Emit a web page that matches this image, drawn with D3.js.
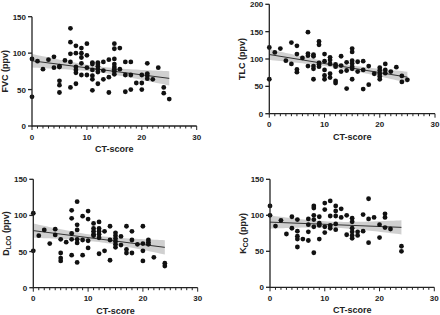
<!DOCTYPE html>
<html>
<head>
<meta charset="utf-8">
<script src="https://cdn.jsdelivr.net/npm/d3@7"></script>
<style>
  body { margin: 0; background: #fff; }
  svg { display: block; font-family: Arial, "Liberation Sans", sans-serif; }
  .tick-label { font-size: 8px; font-weight: bold; fill: #222; }
  .axis-title { font-size: 9px; font-weight: bold; fill: #222; }
</style>
</head>
<body>
<div id="chart"></div>
<script>
// CT-score vs lung function scatter panels

// FVC panel
const fvcCT  = [0,0,1,2,3,4,4,5,5,5,5,5,6,7,7,7,7,7,8,8,8,8,8,8,9,9,9,9,9,10,10,10,10,11,11,11,11,11,11,12,12,12,12,12,12,13,13,13,14,14,14,15,15,15,15,15,15,15,15,16,16,17,17,17,18,18,18,19,20,20,20,21,21,21,21,22,23,24,24,25];
const fvcVal = [92,40,89,78,91,95,80,82,81,62,56,46,90,134,115,99,88,53,110,100,81,77,73,58,107,100,94,86,70,113,97,80,70,87,85,77,69,64,49,87,85,82,78,74,58,88,76,64,91,67,46,113,106,92,85,81,78,75,71,107,78,88,70,47,88,70,50,59,70,59,50,86,72,69,65,64,80,53,45,37];

// TLC panel
const tlcCT  = [0,0,1,2,3,4,4,5,5,5,5,6,7,7,7,7,8,8,8,8,8,9,9,9,9,9,10,10,10,10,10,11,11,11,11,11,12,12,12,12,13,13,13,14,14,14,15,15,15,15,15,15,15,16,16,17,17,17,18,18,19,20,20,20,20,20,21,21,21,22,23,24,24,25];
const tlcVal = [121,63,112,119,97,130,91,124,109,81,76,102,149,110,106,87,108,105,87,82,63,132,126,93,90,86,109,96,80,70,63,103,98,91,73,66,90,86,60,56,105,88,77,94,79,46,119,113,97,92,86,82,63,95,77,96,80,45,87,53,73,84,79,73,68,63,91,80,74,77,85,69,58,62];

// DLCO panel
const dlcoCT  = [0,0,1,2,3,4,4,5,5,5,5,6,7,7,7,7,7,8,8,8,8,8,8,9,9,9,10,10,10,10,11,11,11,11,11,12,12,12,12,12,12,13,13,14,14,14,15,15,15,15,15,15,16,16,17,17,17,18,18,18,19,20,20,20,20,21,21,21,22,24,24];
const dlcoVal = [103,51,72,80,61,81,73,67,48,41,37,63,107,96,75,67,45,119,87,80,67,62,35,99,66,45,106,95,65,55,89,82,78,74,72,91,82,78,74,69,47,78,51,85,66,38,76,72,68,64,60,56,71,59,85,53,48,78,66,48,60,85,61,51,37,66,63,60,42,34,30];

// KCO panel
const kcoCT  = [0,0,1,2,3,4,4,5,5,5,5,5,6,7,7,7,7,8,8,8,8,8,8,9,9,9,9,10,10,10,10,11,11,11,11,12,12,12,12,12,13,13,14,14,15,15,15,15,15,15,16,16,17,17,18,18,18,19,20,20,21,21,21,22,24,24];
const kcoVal = [113,100,85,93,74,98,82,94,78,71,67,56,67,95,87,77,65,113,110,100,94,84,48,98,89,86,67,117,108,84,76,120,99,86,82,113,106,99,88,80,109,97,100,73,96,91,82,77,72,68,77,72,101,78,123,95,62,97,87,69,102,97,83,81,57,50];

const yMaxes = [150, 200, 150, 150];
const yTickStep = 50;
const xTicksMajor = [0, 10, 20, 30];

const W = 440, H = 315;
const svg = d3.select("#chart").append("svg")
  .attr("width", W)
  .attr("height", H);

// panel boxes (plot area pixel bounds)
const panels = [
  {xs: fvcCT,  ys: fvcVal,  yMax: yMaxes[0], x0: 32,    x1: 196.7, yb: 126,   yt: 16.7,  label: ["FVC (ppv)"]},
  {xs: tlcCT,  ys: tlcVal,  yMax: yMaxes[1], x0: 269.3, x1: 435,   yb: 113.7, yt: 4.3,   label: ["TLC (ppv)"]},
  {xs: dlcoCT, ys: dlcoVal, yMax: yMaxes[2], x0: 33.3,  x1: 197.7, yb: 287.7, yt: 179.3, label: ["D", "LCO", " (ppv)"]},
  {xs: kcoCT,  ys: kcoVal,  yMax: yMaxes[3], x0: 270,   x1: 434.3, yb: 287.3, yt: 179.3, label: ["K", "CO", " (ppv)"]}
];

// simple linear fit with 95% CI of the mean
function fit(xs, ys) {
  const n = xs.length;
  const mx = d3.mean(xs), my = d3.mean(ys);
  let sxx = 0, sxy = 0;
  for (let i = 0; i < n; i++) { sxx += (xs[i]-mx)**2; sxy += (xs[i]-mx)*(ys[i]-my); }
  const b = sxy / sxx, a = my - b * mx;
  let sse = 0;
  for (let i = 0; i < n; i++) sse += (ys[i] - a - b*xs[i])**2;
  const s = Math.sqrt(sse / (n - 2));
  const t = 1.99;
  return {a, b, ci: x => t * s * Math.sqrt(1/n + (x-mx)**2 / sxx)};
}

panels.forEach(p => {
  const x = d3.scaleLinear().domain([0, 30]).range([p.x0, p.x1]);
  const y = d3.scaleLinear().domain([0, p.yMax]).range([p.yb, p.yt]);
  const g = svg.append("g");

  // regression + band
  const f = fit(p.xs, p.ys);
  const xmax = d3.max(p.xs);
  const grid = d3.range(0, xmax + 0.001, xmax / 50);
  g.append("path")
    .datum(grid)
    .attr("fill", "#c8c8c8")
    .attr("opacity", 0.85)
    .attr("d", d3.area()
      .x(d => x(d))
      .y0(d => y(f.a + f.b*d - f.ci(d)))
      .y1(d => y(f.a + f.b*d + f.ci(d))));
  g.append("line")
    .attr("x1", x(0)).attr("x2", x(xmax))
    .attr("y1", y(f.a)).attr("y2", y(f.a + f.b*xmax))
    .attr("stroke", "#333")
    .attr("stroke-width", 1);

  // points
  g.selectAll("circle")
    .data(p.xs.map((d, i) => [d, p.ys[i]]))
    .enter().append("circle")
      .attr("cx", d => x(d[0]))
      .attr("cy", d => y(d[1]))
      .attr("r", 2.4)
      .attr("fill", "#111");

  // x axis with minor ticks
  const xa = g.append("g").attr("transform", `translate(0,${p.yb})`);
  xa.append("line").attr("x1", p.x0).attr("x2", p.x1).attr("stroke", "#222").attr("stroke-width", 1.3);
  xa.selectAll(".mt").data(d3.range(0, 31)).enter().append("line")
    .attr("x1", d => x(d)).attr("x2", d => x(d))
    .attr("y1", 0).attr("y2", d => d % 10 === 0 ? 4 : 2.5)
    .attr("stroke", "#222").attr("stroke-width", 1);
  xa.selectAll(".tl").data(xTicksMajor).enter().append("text")
    .attr("class", "tick-label")
    .attr("x", d => x(d)).attr("y", 13.5)
    .attr("text-anchor", "middle")
    .text(d => d);
  g.append("text")
    .attr("class", "axis-title")
    .attr("x", (p.x0 + p.x1) / 2).attr("y", p.yb + 26)
    .attr("text-anchor", "middle")
    .text("CT-score");

  // y axis
  const ya = g.append("g").attr("transform", `translate(${p.x0},0)`);
  ya.append("line").attr("y1", p.yb + 0.6).attr("y2", p.yt).attr("stroke", "#222").attr("stroke-width", 1.3);
  const yt = d3.range(0, p.yMax + 1, yTickStep);
  ya.selectAll(".yt").data(yt).enter().append("line")
    .attr("x1", -4).attr("x2", 0)
    .attr("y1", d => y(d)).attr("y2", d => y(d))
    .attr("stroke", "#222").attr("stroke-width", 1.3);
  ya.selectAll(".yl").data(yt).enter().append("text")
    .attr("class", "tick-label")
    .attr("x", -6).attr("y", d => y(d) + 3)
    .attr("text-anchor", "end")
    .text(d => d);

  // y title
  const tx = p.x0 - 24, ty = (p.yb + p.yt) / 2;
  const tt = g.append("text")
    .attr("class", "axis-title")
    .attr("transform", `translate(${tx},${ty}) rotate(-90)`)
    .attr("text-anchor", "middle");
  if (p.label.length === 1) {
    tt.text(p.label[0]);
  } else {
    tt.append("tspan").text(p.label[0]);
    tt.append("tspan").attr("font-size", "6.5px").attr("dy", 2).text(p.label[1]);
    tt.append("tspan").attr("dy", -2).text(p.label[2]);
  }
});
</script>
</body>
</html>
